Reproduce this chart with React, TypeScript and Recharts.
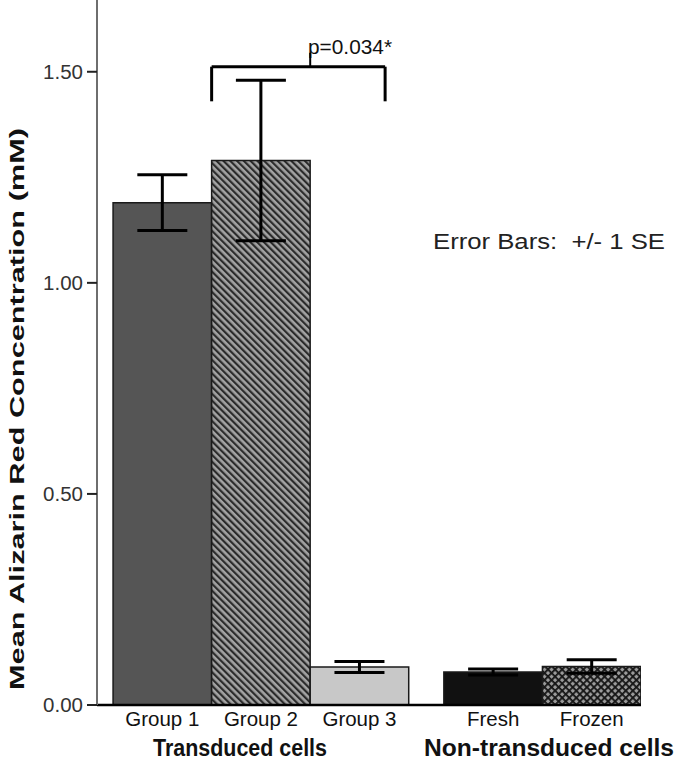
import React from "react";
import { BarChart, Bar, XAxis, YAxis, ErrorBar, Cell, ReferenceLine } from "recharts";

const categories = ["Group 1", "Group 2", "Group 3", "Fresh", "Frozen"];
const groups = ["Transduced cells", "Transduced cells", "Transduced cells", "Non-transduced cells", "Non-transduced cells"];
const means = [1.19, 1.29, 0.09, 0.078, 0.091];
const stdErrors = [0.066, 0.19, 0.013, 0.007, 0.016];
const yTicks = [0, 0.5, 1.0, 1.5];

const FONT = '"Liberation Sans", Arial, Helvetica, sans-serif';
const W = 680;
const H = 764;
const MARGIN = { top: 0, right: 39, bottom: 34, left: 0 };
const Y_AXIS_W = 97;
const X_AXIS_H = 25;
const GROUP_GAP = 0.356;
const X_DOMAIN: [number, number] = [-0.163, 5 + GROUP_GAP];

const fills = ["#555555", "url(#hatchDiag)", "#c8c8c8", "#111111", "url(#crossHatch)"];

const data = categories.map((name, i) => ({
  name,
  group: groups[i],
  x: i + 0.5 + (groups[i] === groups[0] ? 0 : GROUP_GAP),
  mean: means[i],
  err: stdErrors[i],
}));

const plotWidth = W - MARGIN.left - MARGIN.right - Y_AXIS_W;
const barSize = (plotWidth / (X_DOMAIN[1] - X_DOMAIN[0])) * 0.9995;

export default function App() {
  return (
    <div style={{ position: "absolute", left: 0, top: 0, width: W, height: H, background: "#fff" }}>
      <BarChart width={W} height={H} data={data} margin={MARGIN} barGap={0} barCategoryGap={0}>
        <defs>
          <pattern id="hatchDiag" patternUnits="userSpaceOnUse" width="4.8" height="4.8" patternTransform="rotate(-45)">
            <rect x="0" y="0" width="4.8" height="4.8" fill="#a3a3a3" />
            <rect x="0" y="0" width="2.2" height="4.8" fill="#2b2b2b" />
          </pattern>
          <pattern id="crossHatch" patternUnits="userSpaceOnUse" width="5" height="5" patternTransform="rotate(45)">
            <rect x="0" y="0" width="5" height="5" fill="#9a9a9a" />
            <rect x="0" y="0" width="1.8" height="5" fill="#151515" />
            <rect x="0" y="0" width="5" height="1.8" fill="#151515" />
          </pattern>
        </defs>
        <XAxis
          type="number"
          dataKey="x"
          domain={X_DOMAIN}
          allowDataOverflow
          ticks={data.map((d) => d.x)}
          interval={0}
          tickFormatter={(v: number) => {
            const d = data.find((e) => Math.abs(e.x - v) < 1e-6);
            return d ? d.name : "";
          }}
          height={X_AXIS_H}
          tickLine={false}
          tickSize={6}
          tickMargin={0}
          axisLine={{ stroke: "#000", strokeWidth: 2.5 }}
          tick={{ fill: "#111", fontSize: 20.5, fontFamily: FONT }}
        />
        <YAxis
          type="number"
          domain={[0, 1.67]}
          ticks={yTicks}
          allowDataOverflow
          width={Y_AXIS_W}
          tickFormatter={(v: number) => v.toFixed(2)}
          tickSize={10}
          tickMargin={4}
          axisLine={{ stroke: "#6e6e6e", strokeWidth: 2 }}
          tickLine={{ stroke: "#222", strokeWidth: 2 }}
          tick={{ fill: "#333", fontSize: 20.5, fontFamily: FONT }}
        />
        <Bar dataKey="mean" barSize={barSize} stroke="#1a1a1a" strokeWidth={1.5} isAnimationActive={false}>
          {data.map((d, i) => (
            <Cell key={d.name} fill={fills[i]} />
          ))}
          <ErrorBar dataKey="err" direction="y" width={25} stroke="#000" strokeWidth={3} isAnimationActive={false} />
        </Bar>
        <ReferenceLine segment={[{ x: 1.0, y: 1.43 }, { x: 1.0, y: 1.512 }]} stroke="#000" strokeWidth={3} ifOverflow="visible" />
        <ReferenceLine segment={[{ x: 1.0, y: 1.512 }, { x: 2.76, y: 1.512 }]} stroke="#000" strokeWidth={3} ifOverflow="visible" />
        <ReferenceLine segment={[{ x: 2.76, y: 1.512 }, { x: 2.76, y: 1.43 }]} stroke="#000" strokeWidth={3} ifOverflow="visible" />
        <ReferenceLine segment={[{ x: 2.0, y: 1.512 }, { x: 2.0, y: 1.545 }]} stroke="#000" strokeWidth={2} ifOverflow="visible" />
        <text x={308} y={54} fontSize={20.5} fontFamily={FONT} fill="#111" textLength={84} lengthAdjust="spacingAndGlyphs">p=0.034*</text>
        <text x={433} y={249} fontSize={22} fontFamily={FONT} fill="#222" textLength={232} lengthAdjust="spacingAndGlyphs" xmlSpace="preserve">Error Bars:  +/- 1 SE</text>
        <text x={153} y={756} fontSize={23} fontWeight="bold" fontFamily={FONT} fill="#111" textLength={174} lengthAdjust="spacingAndGlyphs">Transduced cells</text>
        <text x={424} y={756} fontSize={23} fontWeight="bold" fontFamily={FONT} fill="#111" textLength={250} lengthAdjust="spacingAndGlyphs">Non-transduced cells</text>
        <text
          x={0}
          y={0}
          transform="translate(24, 409) rotate(-90)"
          textAnchor="middle"
          fontSize={21}
          fontWeight="bold"
          fontFamily={FONT}
          fill="#111"
          textLength={562}
          lengthAdjust="spacingAndGlyphs"
        >
          Mean Alizarin Red Concentration (mM)
        </text>
      </BarChart>
    </div>
  );
}
